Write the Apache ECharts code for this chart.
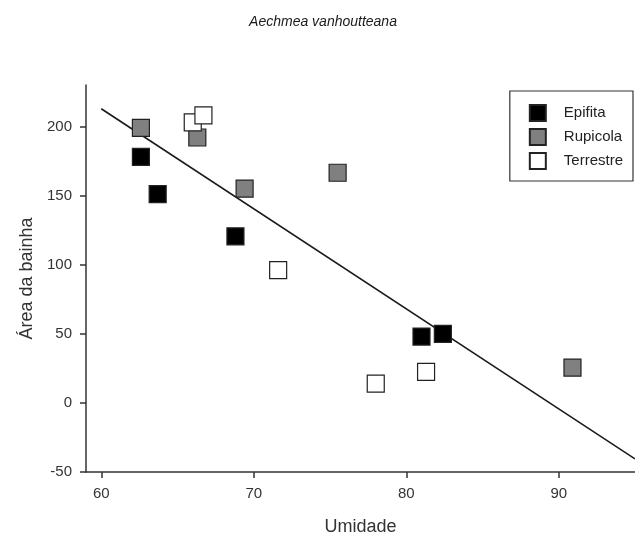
<!DOCTYPE html>
<html>
<head>
<meta charset="utf-8">
<script src="https://cdn.jsdelivr.net/npm/echarts@6/dist/echarts.min.js"></script>
<style>
  html, body { margin: 0; padding: 0; background: #fff; }
  #chart { width: 635px; height: 538px; }
</style>
</head>
<body>
<div id="chart"></div>
<script>
// Humidity (x) vs. sheath area (y), grouped by habit
const epifita = [[62.6, 178], [63.7, 151], [68.8, 120.5], [81.0, 48], [82.4, 50]];
const rupicola = [[62.6, 199], [66.3, 192], [69.4, 155], [75.5, 166.5], [90.9, 25.5]];
const terrestre = [[66.0, 203], [66.7, 208], [71.6, 96], [78.0, 14], [81.3, 22.5]];
// Fitted regression line endpoints
const fitLine = [[60, 212.8], [95, -40.5]];
const xTicks = [60, 70, 80, 90];
const yTicks = [-50, 0, 50, 100, 150, 200];

const FONT = 'Liberation Sans';
const chart = echarts.init(document.getElementById('chart'));

function squareSeries(name, data, fill) {
  return {
    name: name,
    type: 'scatter',
    data: data,
    symbol: 'rect',
    symbolSize: 17,
    itemStyle: { color: fill, borderColor: '#222', borderWidth: 1.2, opacity: 1 },
    z: 3
  };
}

chart.setOption({
  animation: false,
  backgroundColor: '#fff',
  title: {
    text: 'Aechmea vanhoutteana',
    left: 318,
    top: 10,
    textAlign: 'center',
    textStyle: { fontFamily: FONT, fontStyle: 'italic', fontWeight: 'normal', fontSize: 14, color: '#1a1a1a' }
  },
  legend: {
    right: 2,
    top: 91,
    orient: 'vertical',
    itemWidth: 16,
    itemHeight: 16,
    itemGap: 6,
    padding: [13, 10, 11, 19],
    borderColor: '#333',
    borderWidth: 1.2,
    borderRadius: 0,
    textStyle: { fontFamily: FONT, fontSize: 15, color: '#222', padding: [0, 0, 0, 13] },
    data: [
      { name: 'Epifita', icon: 'rect' },
      { name: 'Rupicola', icon: 'rect' },
      { name: 'Terrestre', icon: 'rect' }
    ]
  },
  grid: { left: 86, right: 0, top: 85, bottom: 66, outerBoundsMode: 'none', containLabel: false },
  xAxis: {
    type: 'value',
    min: 59,
    max: 95,
    name: 'Umidade',
    nameLocation: 'middle',
    nameGap: 46,
    nameTextStyle: { fontFamily: FONT, fontSize: 18, color: '#333' },
    axisLine: { show: true, onZero: false, lineStyle: { color: '#333', width: 1.5 } },
    axisTick: { show: true, length: 6, customValues: xTicks, lineStyle: { color: '#333', width: 1.5 } },
    axisLabel: { customValues: xTicks, fontFamily: FONT, fontSize: 15, color: '#333', margin: 14 },
    splitLine: { show: false }
  },
  yAxis: {
    type: 'value',
    min: -50,
    max: 230,
    name: 'Área da bainha',
    nameLocation: 'middle',
    nameGap: 46,
    nameRotate: 90,
    nameTextStyle: { fontFamily: FONT, fontSize: 18, color: '#333' },
    axisLine: { show: true, onZero: false, lineStyle: { color: '#333', width: 1.5 } },
    axisTick: { show: true, length: 6, customValues: yTicks, lineStyle: { color: '#333', width: 1.5 } },
    axisLabel: { customValues: yTicks, fontFamily: FONT, fontSize: 15, color: '#333', margin: 14 },
    splitLine: { show: false }
  },
  series: [
    {
      name: 'fit',
      type: 'line',
      data: fitLine,
      symbol: 'none',
      lineStyle: { color: '#1a1a1a', width: 1.6 },
      z: 2,
      silent: true
    },
    squareSeries('Epifita', epifita, '#000000'),
    squareSeries('Rupicola', rupicola, '#808080'),
    squareSeries('Terrestre', terrestre, '#ffffff')
  ]
});
</script>
</body>
</html>
